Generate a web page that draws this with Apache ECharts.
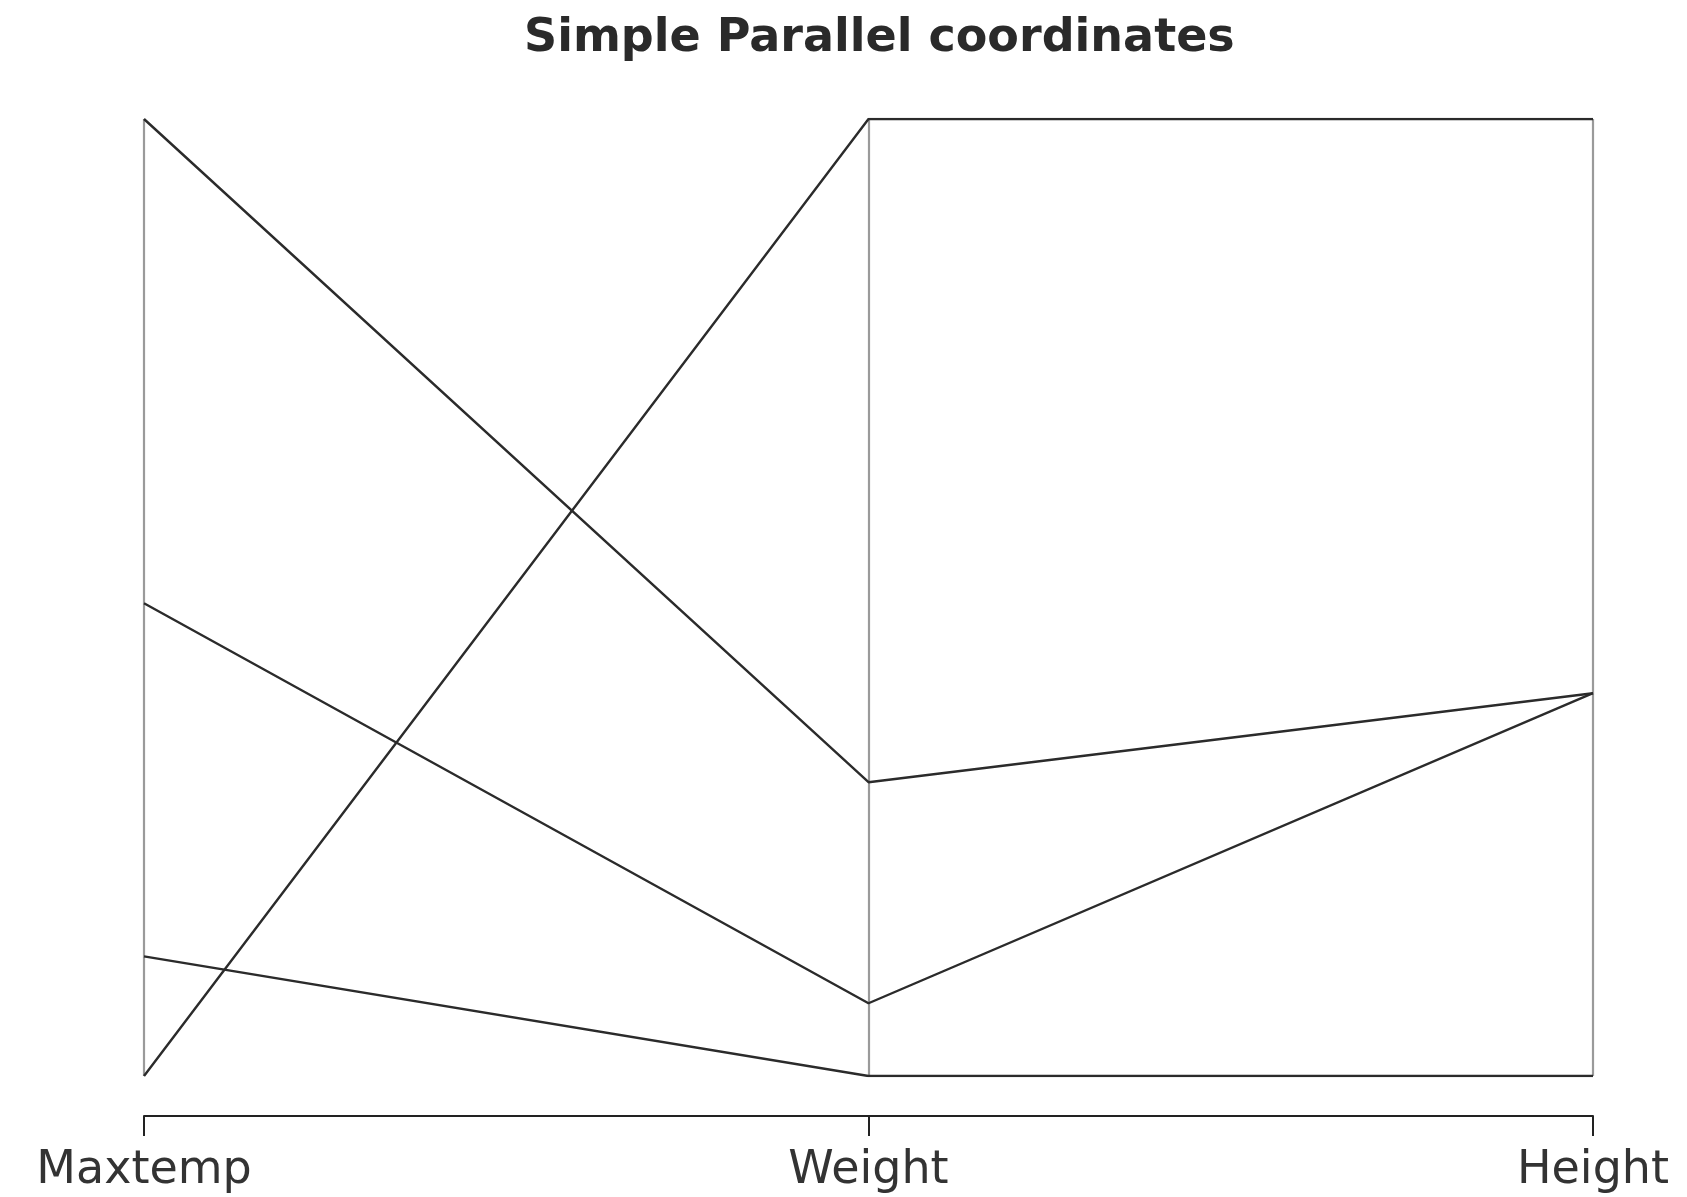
<!DOCTYPE html>
<html>
<head>
<meta charset="utf-8">
<title>Simple Parallel coordinates</title>
<script src="https://cdn.jsdelivr.net/npm/echarts@6/dist/echarts.min.js"></script>
<style>
  html, body { margin: 0; padding: 0; background: #fff; }
  #chart { width: 1687px; height: 1197px; }
</style>
</head>
<body>
<div id="chart"></div>
<script>
// variables (axes), left to right
var dims = ['Maxtemp', 'Weight', 'Height'];

// each observation, scaled 0..1 per axis as in the plot
var obs1 = [1.00, 0.307, 0.400];
var obs2 = [0.494, 0.076, 0.400];
var obs3 = [0.125, 0.00, 0.00];
var obs4 = [0.00, 1.00, 1.00];
var observations = [obs1, obs2, obs3, obs4];

var myChart = echarts.init(document.getElementById('chart'));

var series = observations.map(function (row, i) {
  return {
    name: 'obs' + (i + 1),
    type: 'line',
    data: row,
    symbol: 'none',
    silent: true,
    lineStyle: { color: '#2b2b2b', width: 2.4 }
  };
});

var option = {
  animation: false,
  backgroundColor: '#fff',
  title: {
    text: 'Simple Parallel coordinates',
    left: 519,
    top: 11,
    textStyle: {
      fontFamily: 'DejaVu Sans',
      fontSize: 46,
      fontWeight: 'bold',
      color: '#2a2a2a'
    }
  },
  grid: { left: 144, right: 94, top: 119, bottom: 121 },
  xAxis: {
    type: 'category',
    data: dims,
    boundaryGap: false,
    offset: 40,
    axisLine: { onZero: false, lineStyle: { color: '#222', width: 2 } },
    axisTick: { show: true, length: 20, interval: 0, lineStyle: { color: '#222', width: 2 } },
    axisLabel: {
      interval: 0,
      margin: 32,
      fontFamily: 'DejaVu Sans',
      fontSize: 46,
      color: '#333'
    },
    splitLine: { show: true, interval: 0, lineStyle: { color: '#9a9a9a', width: 2.2 } }
  },
  yAxis: {
    type: 'value',
    min: 0,
    max: 1,
    show: false
  },
  series: series
};

myChart.setOption(option);
</script>
</body>
</html>
